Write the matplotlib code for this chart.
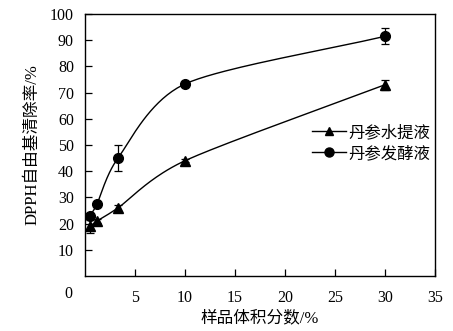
import numpy as np
import matplotlib
matplotlib.use("Agg")
import matplotlib.pyplot as plt
from matplotlib.lines import Line2D

plt.rcParams['font.family'] = ['Liberation Serif', 'Noto Sans CJK SC']
plt.rcParams['font.size'] = 11.5

# Volume fraction of sample (%) and DPPH radical scavenging rate (%)
x_vals = [0.5, 1.2, 3.3, 10, 30]
water_extract = [19.0, 21.0, 26.0, 44.0, 73.0]
water_err = [2.5, 0.8, 1.2, 0.6, 2.0]
ferment_liquid = [23.0, 27.5, 45.0, 73.3, 91.5]
ferment_err = [1.0, 0.6, 5.0, 0.8, 3.0]

series_labels = ['丹参水提液', '丹参发酵液']
x_label = '样品体积分数/%'
y_label = 'DPPH自由基清除率/%'
x_ticks = [5, 10, 15, 20, 25, 30, 35]
y_ticks = [10, 20, 30, 40, 50, 60, 70, 80, 90, 100]


def smooth_curve(xs, ys, n=40):
    """Catmull-Rom style smoothed line through the points."""
    xs = np.asarray(xs, float)
    ys = np.asarray(ys, float)
    px = np.concatenate([[2 * xs[0] - xs[1]], xs, [2 * xs[-1] - xs[-2]]])
    py = np.concatenate([[2 * ys[0] - ys[1]], ys, [2 * ys[-1] - ys[-2]]])
    out_x, out_y = [], []
    for i in range(1, len(px) - 2):
        t = np.linspace(0, 1, n)
        for arr, out in ((px, out_x), (py, out_y)):
            p0, p1, p2, p3 = arr[i - 1], arr[i], arr[i + 1], arr[i + 2]
            m1 = (p2 - p0) / 2 * 0.8
            m2 = (p3 - p1) / 2 * 0.8
            h00 = 2 * t**3 - 3 * t**2 + 1
            h10 = t**3 - 2 * t**2 + t
            h01 = -2 * t**3 + 3 * t**2
            h11 = t**3 - t**2
            out.extend(h00 * p1 + h10 * m1 + h01 * p2 + h11 * m2)
    return np.array(out_x), np.array(out_y)


fig = plt.figure(figsize=(4.53, 3.31), dpi=100)
ax = fig.add_axes([85 / 453, 55 / 331, 350 / 453, 262 / 331])

for ys, errs, mk in ((water_extract, water_err, '^'), (ferment_liquid, ferment_err, 'o')):
    sx, sy = smooth_curve(x_vals, ys)
    ax.plot(sx, sy, color='black', lw=1.0, zorder=2)
    ax.errorbar(x_vals, ys, yerr=errs, fmt=mk, color='black', ms=7 if mk == 'o' else 6.5,
                ecolor='black', elinewidth=0.9, capsize=3, capthick=0.9, zorder=3)

ax.set_xlim(0, 35)
ax.set_ylim(0, 100)
ax.set_xticks(x_ticks)
ax.set_yticks(y_ticks)
ax.tick_params(direction='in', length=5, width=0.9, colors='black', labelsize=11.5)
ax.tick_params(axis='x', pad=10)
ax.tick_params(axis='y', pad=8)
for s in ax.spines.values():
    s.set_linewidth(1.0)

# shared origin label
ax.text(-1.7, -7.0, '0', ha='center', va='center', fontsize=11.5)

ax.set_xlabel(x_label, fontsize=12, labelpad=3)
ax.set_ylabel(y_label, fontsize=12, labelpad=7)

handles = [
    Line2D([], [], color='black', lw=1.0, marker='^', ms=6),
    Line2D([], [], color='black', lw=1.0, marker='o', ms=6.5),
]
ax.legend(handles, series_labels, loc='center left', bbox_to_anchor=(0.63, 0.505),
          frameon=False, handlelength=2.1, handletextpad=0.1, labelspacing=0.3,
          fontsize=11.8, borderaxespad=0)

fig.savefig('out.png', dpi=100)
